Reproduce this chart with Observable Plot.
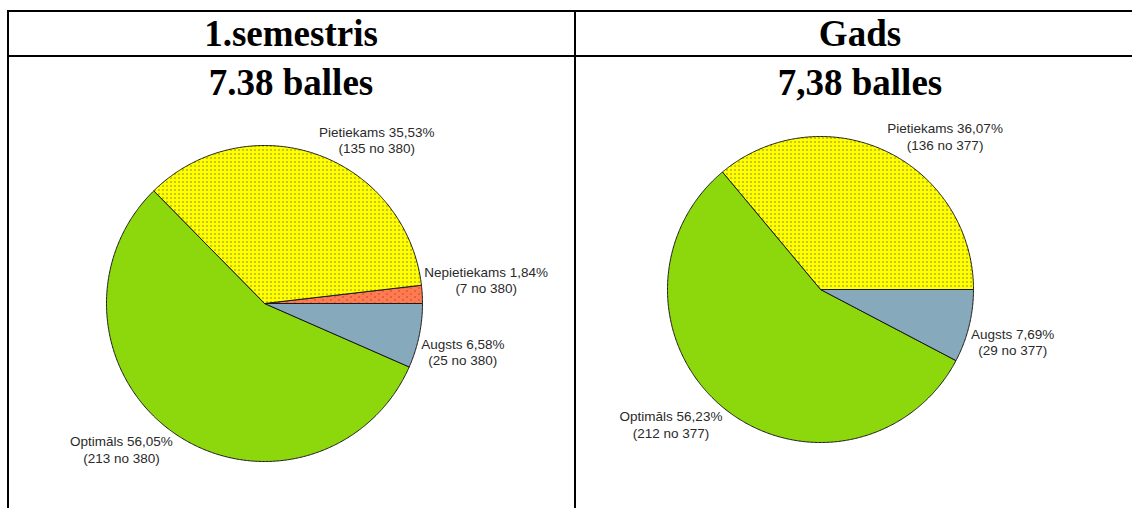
<!DOCTYPE html>
<html>
<head>
<meta charset="utf-8">
<script src="https://cdn.jsdelivr.net/npm/d3@7"></script>
<script src="https://cdn.jsdelivr.net/npm/@observablehq/plot@0.6"></script>
<style>
  html, body { margin: 0; padding: 0; background: #fff; }
  #page { position: relative; width: 1132px; height: 508px; overflow: hidden; background: #fff; }
  .rule { position: absolute; background: #000; }
  .head { position: absolute; text-align: center; font-family: "Liberation Serif", "Times New Roman", serif;
          font-weight: bold; font-size: 37px; line-height: 37px; color: #000; white-space: nowrap; }
  .plotbox { position: absolute; }
</style>
</head>
<body>
<svg width="0" height="0" style="position:absolute">
  <defs>
    <pattern id="pat-yellow" patternUnits="userSpaceOnUse" width="4" height="4">
      <rect width="4" height="4" fill="#FFFF00"/>
      <rect x="1" y="1" width="1" height="1" fill="#222"/>
    </pattern>
    <pattern id="pat-orange" patternUnits="userSpaceOnUse" width="8" height="6">
      <rect width="8" height="6" fill="#FF7A50"/>
      <rect x="1" y="1" width="1" height="1" fill="#6a2a18"/>
      <rect x="5" y="4" width="1" height="1" fill="#6a2a18"/>
    </pattern>
    <pattern id="pat-blue" patternUnits="userSpaceOnUse" width="2" height="2">
      <rect width="2" height="2" fill="#A4C8DC"/>
      <rect x="0" y="0" width="1" height="1" fill="#2E4A5A"/>
    </pattern>
    <pattern id="pat-green" patternUnits="userSpaceOnUse" width="2" height="2">
      <rect width="2" height="2" fill="#A8FF10"/>
      <rect x="0" y="0" width="1" height="1" fill="#3a6400"/>
    </pattern>
  </defs>
</svg>
<div id="page"></div>
<script>
// ---------- data ----------
const columnTitles = ["1.semestris", "Gads"];
const averageLabels = ["7.38 balles", "7,38 balles"];
const categories = ["Nepietiekams", "Pietiekams", "Optimāls", "Augsts"];
const semestrisCounts = [7, 135, 213, 25];
const gadsCounts = [0, 136, 212, 29];
const categoryPatterns = ["pat-orange", "pat-yellow", "pat-green", "pat-blue"];

// ---------- layout ----------
const page = document.getElementById("page");
function rule(l, t, w, h) {
  const d = document.createElement("div");
  d.className = "rule";
  Object.assign(d.style, {left: l + "px", top: t + "px", width: w + "px", height: h + "px"});
  page.appendChild(d);
}
rule(7, 10, 1125, 2);
rule(7, 55, 1125, 2);
rule(7, 10, 2, 498);
rule(574, 10, 2, 498);

const headCenters = [291, 860];
columnTitles.forEach((t, i) => {
  const d = document.createElement("div");
  d.className = "head";
  d.textContent = t;
  Object.assign(d.style, {left: (headCenters[i] - 250) + "px", width: "500px", top: "15px"});
  page.appendChild(d);
  const d2 = document.createElement("div");
  d2.className = "head";
  d2.textContent = averageLabels[i];
  Object.assign(d2.style, {left: (headCenters[i] - 250) + "px", width: "500px", top: "64px"});
  page.appendChild(d2);
});

const labelFont = '13.5px "Liberation Sans", Arial, sans-serif';
const ctx = document.createElement("canvas").getContext("2d");
ctx.font = labelFont;

function pieChart(counts, box) {
  const {left, top, width, height, cx, cy, r} = box;
  const total = d3.sum(counts);
  let acc = 0;
  const slices = [];
  counts.forEach((c, i) => {
    const a0 = acc / total * 2 * Math.PI;
    acc += c;
    const a1 = acc / total * 2 * Math.PI;
    if (c > 0) slices.push({cat: categories[i], count: c, a0, a1, pat: categoryPatterns[i]});
  });
  const marks = [];
  for (const s of slices) {
    const pts = [{x: 0, y: 0}];
    const n = Math.max(2, Math.ceil((s.a1 - s.a0) / (Math.PI / 360)));
    for (let k = 0; k <= n; k++) {
      const a = s.a0 + (s.a1 - s.a0) * k / n;
      pts.push({x: Math.cos(a), y: Math.sin(a)});
    }
    pts.push({x: 0, y: 0});
    marks.push(Plot.line(pts, {x: "x", y: "y", fill: `url(#${s.pat})`, stroke: "#1a1a1a", strokeWidth: 1, strokeLinejoin: "round"}));
  }
  const gap = 2;
  for (const s of slices) {
    const m = (s.a0 + s.a1) / 2;
    const pct = (s.count / total * 100).toFixed(2).replace(".", ",");
    const l1 = `${s.cat} ${pct}%`;
    const l2 = `(${s.count} no ${total})`;
    const w = Math.max(ctx.measureText(l1).width, ctx.measureText(l2).width);
    const right = Math.cos(m) >= 0;
    const up = Math.sin(m) >= 0;
    const lx = Math.cos(m) + (right ? 1 : -1) * (w / 2 + gap) / r;
    const ly = Math.sin(m) + (up ? 1 : -1) * 1 / r;
    marks.push(Plot.text([{x: lx, y: ly, t: l1 + "\n" + l2}], {
      x: "x", y: "y", text: "t", textAnchor: "middle", lineAnchor: up ? "bottom" : "top",
      fontSize: 13.5, fontFamily: '"Liberation Sans", Arial, sans-serif', fill: "#2a2a2a", lineHeight: 1.22
    }));
  }
  const svg = Plot.plot({
    width, height, margin: 0,
    x: {domain: [-cx / r, (width - cx) / r], range: [0, width], axis: null},
    y: {domain: [-(height - cy) / r, cy / r], range: [height, 0], axis: null},
    style: {background: "transparent", overflow: "visible"},
    marks
  });
  const holder = document.createElement("div");
  holder.className = "plotbox";
  Object.assign(holder.style, {left: left + "px", top: top + "px", width: width + "px", height: height + "px"});
  holder.appendChild(svg);
  page.appendChild(holder);
}

pieChart(semestrisCounts, {left: 9, top: 100, width: 565, height: 408, cx: 255, cy: 203, r: 158});
pieChart(gadsCounts, {left: 577, top: 100, width: 555, height: 408, cx: 243, cy: 189, r: 153});
</script>
</body>
</html>
